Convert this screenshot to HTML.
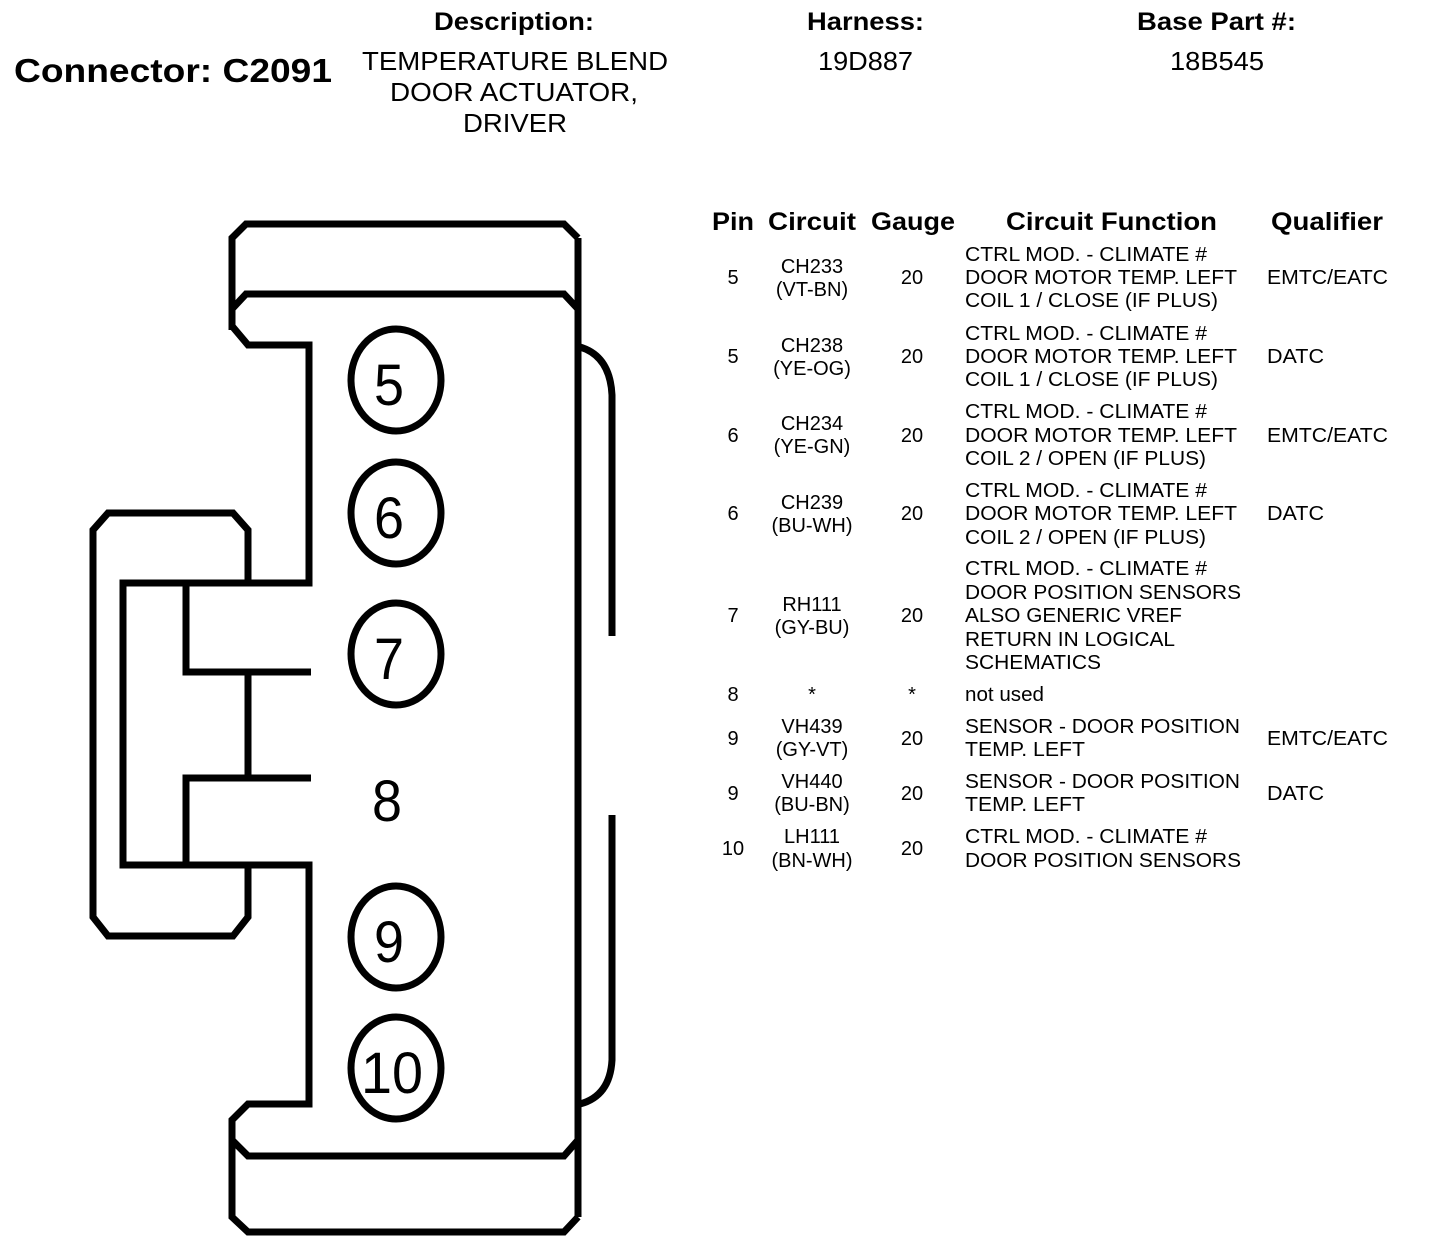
<!DOCTYPE html>
<html><head><meta charset="utf-8"><style>
html,body{margin:0;padding:0;background:#fff;width:1440px;height:1246px;overflow:hidden}
svg{display:block}
text{font-family:"Liberation Sans",Arial,sans-serif;fill:#000}
.h{font-weight:bold;font-size:25px}
.b{font-size:20px}
.t{font-size:26px}
</style></head><body>
<svg width="1440" height="1246" viewBox="0 0 1440 1246" xmlns="http://www.w3.org/2000/svg">
<g stroke="#000" stroke-width="7" fill="none" stroke-linejoin="miter">
<path d="M232,330 L232,238 L246,224 L564,224 L578,238"/>
<path d="M232,309 L246,294 L564,294 L578,309"/>
<path d="M232,326 L248,345 L309,345 L309,583 L123,583 L123,865 L309,865 L309,1104 L248,1104 L232,1120 L232,1217 L248,1232 L564,1232 L578,1217"/>
<path d="M232,1140 L248,1156 L564,1156 L578,1140"/>
<path d="M578,238 L578,1217"/>
<path d="M248,583 L248,530 L233,513 L108,513 L93,530 L93,917 L108,936 L233,936 L248,917 L248,865"/>
<path d="M186,583 L186,672 L311,672"/>
<path d="M248,672 L248,778"/>
<path d="M311,778 L186,778 L186,865"/>
<path d="M580,347 Q610,356 612,395 L612,636"/>
<path d="M612,815 L612,1060 Q610,1096 580,1104"/>
<ellipse cx="396" cy="380" rx="45" ry="51"/>
<ellipse cx="396" cy="513" rx="45" ry="51"/>
<ellipse cx="396" cy="654" rx="45" ry="51"/>
<ellipse cx="396" cy="937" rx="45" ry="51"/>
<ellipse cx="396" cy="1068" rx="45" ry="51"/>
</g>
<g text-anchor="middle">
<text x="389" y="405" style="font-size:58px" textLength="30" lengthAdjust="spacingAndGlyphs">5</text>
<text x="389" y="538" style="font-size:58px" textLength="30" lengthAdjust="spacingAndGlyphs">6</text>
<text x="389" y="679" style="font-size:58px" textLength="30" lengthAdjust="spacingAndGlyphs">7</text>
<text x="387" y="821" style="font-size:58px" textLength="30" lengthAdjust="spacingAndGlyphs">8</text>
<text x="389" y="962" style="font-size:58px" textLength="30" lengthAdjust="spacingAndGlyphs">9</text>
<text x="392" y="1093" style="font-size:58px" textLength="62" lengthAdjust="spacingAndGlyphs">10</text>
</g>
<text x="14" y="82" style="font-weight:bold;font-size:33px" textLength="318" lengthAdjust="spacingAndGlyphs">Connector: C2091</text>
<text class="h" x="434" y="30" textLength="160" lengthAdjust="spacingAndGlyphs">Description:</text>
<text class="t" x="362" y="70" textLength="306" lengthAdjust="spacingAndGlyphs">TEMPERATURE BLEND</text>
<text class="t" x="390" y="101" textLength="248" lengthAdjust="spacingAndGlyphs">DOOR ACTUATOR,</text>
<text class="t" x="463" y="132" textLength="104" lengthAdjust="spacingAndGlyphs">DRIVER</text>
<text class="h" x="807" y="30" textLength="117" lengthAdjust="spacingAndGlyphs">Harness:</text>
<text class="t" x="818" y="70" textLength="95" lengthAdjust="spacingAndGlyphs">19D887</text>
<text class="h" x="1137" y="30" textLength="159" lengthAdjust="spacingAndGlyphs">Base Part #:</text>
<text class="t" x="1170" y="70" textLength="94" lengthAdjust="spacingAndGlyphs">18B545</text>
<text class="h" x="712" y="230" textLength="42" lengthAdjust="spacingAndGlyphs">Pin</text>
<text class="h" x="768" y="230" textLength="88" lengthAdjust="spacingAndGlyphs">Circuit</text>
<text class="h" x="871" y="230" textLength="84" lengthAdjust="spacingAndGlyphs">Gauge</text>
<text class="h" x="1006" y="230" textLength="211" lengthAdjust="spacingAndGlyphs">Circuit Function</text>
<text class="h" x="1271" y="230" textLength="112" lengthAdjust="spacingAndGlyphs">Qualifier</text>
<g class="b" dominant-baseline="central">
<text class="b" x="733" y="278" text-anchor="middle">5</text>
<text class="b" x="812" y="267" text-anchor="middle">CH233</text>
<text class="b" x="812" y="290" text-anchor="middle">(VT-BN)</text>
<text class="b" x="912" y="278" text-anchor="middle">20</text>
<text class="b" x="965" y="255" textLength="242" lengthAdjust="spacingAndGlyphs">CTRL MOD. - CLIMATE #</text>
<text class="b" x="965" y="278" textLength="272" lengthAdjust="spacingAndGlyphs">DOOR MOTOR TEMP. LEFT</text>
<text class="b" x="965" y="301" textLength="253" lengthAdjust="spacingAndGlyphs">COIL 1 / CLOSE (IF PLUS)</text>
<text class="b" x="1267" y="278" textLength="121" lengthAdjust="spacingAndGlyphs">EMTC/EATC</text>
<text class="b" x="733" y="357" text-anchor="middle">5</text>
<text class="b" x="812" y="346" text-anchor="middle">CH238</text>
<text class="b" x="812" y="369" text-anchor="middle">(YE-OG)</text>
<text class="b" x="912" y="357" text-anchor="middle">20</text>
<text class="b" x="965" y="334" textLength="242" lengthAdjust="spacingAndGlyphs">CTRL MOD. - CLIMATE #</text>
<text class="b" x="965" y="357" textLength="272" lengthAdjust="spacingAndGlyphs">DOOR MOTOR TEMP. LEFT</text>
<text class="b" x="965" y="380" textLength="253" lengthAdjust="spacingAndGlyphs">COIL 1 / CLOSE (IF PLUS)</text>
<text class="b" x="1267" y="357" textLength="57" lengthAdjust="spacingAndGlyphs">DATC</text>
<text class="b" x="733" y="436" text-anchor="middle">6</text>
<text class="b" x="812" y="424" text-anchor="middle">CH234</text>
<text class="b" x="812" y="447" text-anchor="middle">(YE-GN)</text>
<text class="b" x="912" y="436" text-anchor="middle">20</text>
<text class="b" x="965" y="412" textLength="242" lengthAdjust="spacingAndGlyphs">CTRL MOD. - CLIMATE #</text>
<text class="b" x="965" y="436" textLength="272" lengthAdjust="spacingAndGlyphs">DOOR MOTOR TEMP. LEFT</text>
<text class="b" x="965" y="459" textLength="241" lengthAdjust="spacingAndGlyphs">COIL 2 / OPEN (IF PLUS)</text>
<text class="b" x="1267" y="436" textLength="121" lengthAdjust="spacingAndGlyphs">EMTC/EATC</text>
<text class="b" x="733" y="514" text-anchor="middle">6</text>
<text class="b" x="812" y="503" text-anchor="middle">CH239</text>
<text class="b" x="812" y="526" text-anchor="middle">(BU-WH)</text>
<text class="b" x="912" y="514" text-anchor="middle">20</text>
<text class="b" x="965" y="491" textLength="242" lengthAdjust="spacingAndGlyphs">CTRL MOD. - CLIMATE #</text>
<text class="b" x="965" y="514" textLength="272" lengthAdjust="spacingAndGlyphs">DOOR MOTOR TEMP. LEFT</text>
<text class="b" x="965" y="538" textLength="241" lengthAdjust="spacingAndGlyphs">COIL 2 / OPEN (IF PLUS)</text>
<text class="b" x="1267" y="514" textLength="57" lengthAdjust="spacingAndGlyphs">DATC</text>
<text class="b" x="733" y="616" text-anchor="middle">7</text>
<text class="b" x="812" y="605" text-anchor="middle">RH111</text>
<text class="b" x="812" y="628" text-anchor="middle">(GY-BU)</text>
<text class="b" x="912" y="616" text-anchor="middle">20</text>
<text class="b" x="965" y="569" textLength="242" lengthAdjust="spacingAndGlyphs">CTRL MOD. - CLIMATE #</text>
<text class="b" x="965" y="593" textLength="276" lengthAdjust="spacingAndGlyphs">DOOR POSITION SENSORS</text>
<text class="b" x="965" y="616" textLength="217" lengthAdjust="spacingAndGlyphs">ALSO GENERIC VREF</text>
<text class="b" x="965" y="640" textLength="210" lengthAdjust="spacingAndGlyphs">RETURN IN LOGICAL</text>
<text class="b" x="965" y="663" textLength="136" lengthAdjust="spacingAndGlyphs">SCHEMATICS</text>
<text class="b" x="733" y="695" text-anchor="middle">8</text>
<text class="b" x="812" y="695" text-anchor="middle">*</text>
<text class="b" x="912" y="695" text-anchor="middle">*</text>
<text class="b" x="965" y="695" textLength="79" lengthAdjust="spacingAndGlyphs">not used</text>
<text class="b" x="733" y="739" text-anchor="middle">9</text>
<text class="b" x="812" y="727" text-anchor="middle">VH439</text>
<text class="b" x="812" y="750" text-anchor="middle">(GY-VT)</text>
<text class="b" x="912" y="739" text-anchor="middle">20</text>
<text class="b" x="965" y="727" textLength="275" lengthAdjust="spacingAndGlyphs">SENSOR - DOOR POSITION</text>
<text class="b" x="965" y="750" textLength="120" lengthAdjust="spacingAndGlyphs">TEMP. LEFT</text>
<text class="b" x="1267" y="739" textLength="121" lengthAdjust="spacingAndGlyphs">EMTC/EATC</text>
<text class="b" x="733" y="794" text-anchor="middle">9</text>
<text class="b" x="812" y="782" text-anchor="middle">VH440</text>
<text class="b" x="812" y="805" text-anchor="middle">(BU-BN)</text>
<text class="b" x="912" y="794" text-anchor="middle">20</text>
<text class="b" x="965" y="782" textLength="275" lengthAdjust="spacingAndGlyphs">SENSOR - DOOR POSITION</text>
<text class="b" x="965" y="805" textLength="120" lengthAdjust="spacingAndGlyphs">TEMP. LEFT</text>
<text class="b" x="1267" y="794" textLength="57" lengthAdjust="spacingAndGlyphs">DATC</text>
<text class="b" x="733" y="849" text-anchor="middle">10</text>
<text class="b" x="812" y="837" text-anchor="middle">LH111</text>
<text class="b" x="812" y="861" text-anchor="middle">(BN-WH)</text>
<text class="b" x="912" y="849" text-anchor="middle">20</text>
<text class="b" x="965" y="837" textLength="242" lengthAdjust="spacingAndGlyphs">CTRL MOD. - CLIMATE #</text>
<text class="b" x="965" y="861" textLength="276" lengthAdjust="spacingAndGlyphs">DOOR POSITION SENSORS</text>
</g>
</svg>
</body></html>
